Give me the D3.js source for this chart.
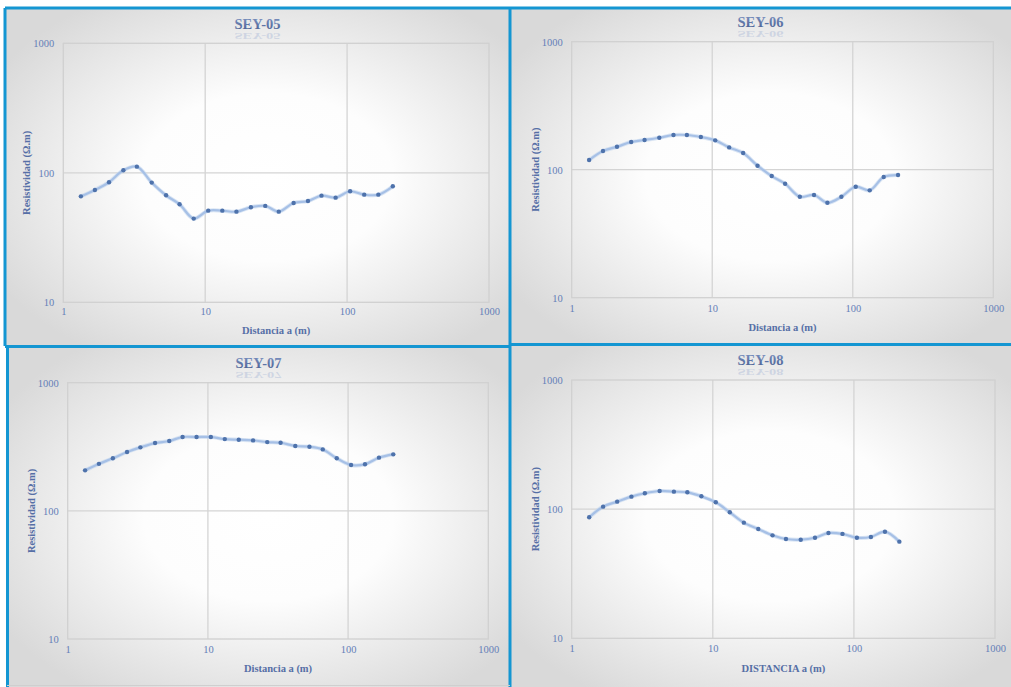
<!DOCTYPE html>
<html>
<head>
<meta charset="utf-8">
<script src="https://cdn.jsdelivr.net/npm/d3@7/dist/d3.min.js"></script>
<style>
  html, body { margin: 0; padding: 0; background: #ffffff; }
  svg { display: block; }
</style>
</head>
<body>
<svg id="chart" width="1011" height="687"></svg>
<script>
// ---------- DATA ----------
const distancia = [1.33, 1.67, 2.1, 2.65, 3.3, 4.2, 5.3, 6.6, 8.3, 10.5, 13.2, 16.6, 21, 26.5, 33, 42, 53, 66, 83, 105, 132, 166, 210];
const sey05 = [65.8, 73.7, 84.5, 104.5, 111.6, 84, 67, 57.1, 44.3, 51, 51, 50.1, 54.2, 55.5, 50.1, 58.5, 60.5, 66.6, 64.3, 72, 67.8, 67.8, 78.7];
const sey06 = [119, 140, 151, 164.5, 170.6, 177.8, 186.6, 186.6, 180, 169.5, 149.3, 134.9, 107.5, 89.2, 77.7, 61.5, 63.4, 55.2, 61.5, 73.6, 69, 87.7, 90.8];
const sey07 = [207, 232.7, 257, 287.9, 313, 338, 350.6, 376.7, 376.7, 376.7, 363, 359, 354.6, 344, 340, 320.5, 316.6, 301.6, 257, 228, 230.8, 260, 276];
const sey08 = [86.5, 104.6, 114.3, 125, 132.7, 138.2, 136.6, 135, 125.7, 113, 94.5, 78.6, 70.2, 62.7, 58.7, 58, 60.1, 65.4, 64.3, 60.1, 60.9, 66.9, 56];
const titles = ["SEY-05", "SEY-06", "SEY-07", "SEY-08"];
const xTitles = ["Distancia a (m)", "Distancia a (m)", "Distancia a (m)", "DISTANCIA a (m)"];
const yTitle = "Resistividad (\u03A9.m)";
const xTicks = [1, 10, 100, 1000];
const yTicks = [10, 100, 1000];
const series = [sey05, sey06, sey07, sey08];

// ---------- LAYOUT ----------
const panels = [
  { bx: 5,   by: 8,   bw: 505, bh: 338, px0: 63.3,  px1: 489,   py0: 43.3,  py1: 302.3, ty: 29,  tick: 318, at: 334 },
  { bx: 510, by: 8,   bw: 501, bh: 337, px0: 571.7, px1: 993.3, py0: 41.7,  py1: 297.7, ty: 27,  tick: 315, at: 331 },
  { bx: 7,   by: 346, bw: 503, bh: 341, px0: 67.7,  px1: 488.3, py0: 382.7, py1: 639,   ty: 368, tick: 656, at: 672 },
  { bx: 510, by: 345, bw: 501, bh: 342, px0: 571.7, px1: 995,   py0: 380,   py1: 638.3, ty: 365, tick: 655, at: 672 }
];

const svg = d3.select("#chart");
const defs = svg.append("defs");
const grad = defs.append("radialGradient").attr("id", "bg").attr("cx", "52%").attr("cy", "50%").attr("r", "62%");
grad.append("stop").attr("offset", "0%").attr("stop-color", "#ffffff");
grad.append("stop").attr("offset", "40%").attr("stop-color", "#fdfdfd");
grad.append("stop").attr("offset", "100%").attr("stop-color", "#d9d9d9");

const tgrad = defs.append("linearGradient").attr("id", "tg").attr("x1", 0).attr("y1", 0).attr("x2", 0).attr("y2", 1);
tgrad.append("stop").attr("offset", "0%").attr("stop-color", "#7f95c4");
tgrad.append("stop").attr("offset", "100%").attr("stop-color", "#475d91");

const serif = "'Liberation Serif', 'Times New Roman', serif";
const textCol = "#6580b8";
const titleCol = "#566fa6";

panels.forEach((p, i) => {
  const g = svg.append("g");
  g.append("rect").attr("x", p.bx).attr("y", p.by).attr("width", p.bw).attr("height", p.bh)
    .attr("fill", "url(#bg)");

  const x = d3.scaleLog().domain([1, 1000]).range([p.px0, p.px1]);
  const y = d3.scaleLog().domain([10, 1000]).range([p.py1, p.py0]);

  // gridlines
  g.append("g").selectAll("line").data(xTicks.slice(1, -1)).join("line")
    .attr("x1", d => x(d)).attr("x2", d => x(d)).attr("y1", p.py0).attr("y2", p.py1)
    .attr("stroke", "#d4d4d4").attr("stroke-width", 1.3);
  g.append("g").selectAll("line").data(yTicks.slice(1, -1)).join("line")
    .attr("x1", p.px0).attr("x2", p.px1).attr("y1", d => y(d)).attr("y2", d => y(d))
    .attr("stroke", "#d4d4d4").attr("stroke-width", 1.3);
  // plot border
  g.append("rect").attr("x", p.px0).attr("y", p.py0).attr("width", p.px1 - p.px0).attr("height", p.py1 - p.py0)
    .attr("fill", "none").attr("stroke", "#d0d0d0").attr("stroke-width", 1.3);

  // axes (labels only)
  const xAxis = d3.axisBottom(x).tickValues(xTicks).tickFormat(d3.format("d")).tickSize(0).tickPadding(0);
  const xa = g.append("g").attr("transform", `translate(0,${p.tick - 10})`).call(xAxis);
  xa.select(".domain").remove();
  xa.selectAll("text").attr("fill", textCol).attr("font-family", serif).attr("font-size", 10.5)
    .attr("dy", "0.71em");

  const yAxis = d3.axisLeft(y).tickValues(yTicks).tickFormat(d3.format("d")).tickSize(0).tickPadding(9);
  const ya = g.append("g").attr("transform", `translate(${p.px0},0)`).call(yAxis);
  ya.select(".domain").remove();
  ya.selectAll("text").attr("fill", textCol).attr("font-family", serif).attr("font-size", 10.5);

  // title + faint reflection
  const cx = p.bx + p.bw / 2;
  g.append("text").attr("x", cx).attr("y", p.ty).attr("text-anchor", "middle")
    .attr("font-family", serif).attr("font-weight", "bold").attr("font-size", 14.5)
    .attr("fill", "url(#tg)").text(titles[i]);
  g.append("text").attr("text-anchor", "middle")
    .attr("transform", `translate(${cx},${p.ty + 4}) scale(1,-0.5)`)
    .attr("font-family", serif).attr("font-weight", "bold").attr("font-size", 14.5)
    .attr("fill", "#8aa0cc").attr("opacity", 0.3).text(titles[i]);

  // axis titles
  g.append("text").attr("x", (p.px0 + p.px1) / 2).attr("y", p.at).attr("text-anchor", "middle")
    .attr("font-family", serif).attr("font-weight", "bold").attr("font-size", 10.5)
    .attr("fill", titleCol).text(xTitles[i]);
  g.append("text").attr("text-anchor", "middle")
    .attr("transform", `translate(${p.px0 - 33},${(p.py0 + p.py1) / 2}) rotate(-90)`)
    .attr("font-family", serif).attr("font-weight", "bold").attr("font-size", 10.5)
    .attr("fill", titleCol).text(yTitle);

  // data
  const pts = distancia.map((d, k) => [d, series[i][k]]);
  const line = d3.line().x(d => x(d[0])).y(d => y(d[1])).curve(d3.curveCatmullRom.alpha(0.5));
  g.append("path").attr("d", line(pts)).attr("fill", "none")
    .attr("stroke", "#c3d5ee").attr("stroke-width", 4).attr("opacity", 0.6);
  g.append("path").attr("d", line(pts)).attr("fill", "none")
    .attr("stroke", "#a6c0e6").attr("stroke-width", 2.2);
  g.selectAll("circle").data(pts).join("circle")
    .attr("cx", d => x(d[0])).attr("cy", d => y(d[1])).attr("r", 2.2)
    .attr("fill", "#4e72ab");
});

// blue frame lines
const blue = "#1496d2";
const frame = [
  [5, 8, 1011, 8],
  [5, 8, 5, 346],
  [510, 8, 510, 687],
  [5, 346.5, 510, 346.5],
  [510, 344.5, 1011, 344.5],
  [7.5, 346, 7.5, 687]
];
svg.append("g").selectAll("line").data(frame).join("line")
  .attr("x1", d => d[0]).attr("y1", d => d[1]).attr("x2", d => d[2]).attr("y2", d => d[3])
  .attr("stroke", blue).attr("stroke-width", 3);
// faint bottom edge of lower-left panel
svg.append("line").attr("x1", 7).attr("x2", 510).attr("y1", 685.5).attr("y2", 685.5)
  .attr("stroke", "#cfcfcf").attr("stroke-width", 1);
</script>
</body>
</html>
